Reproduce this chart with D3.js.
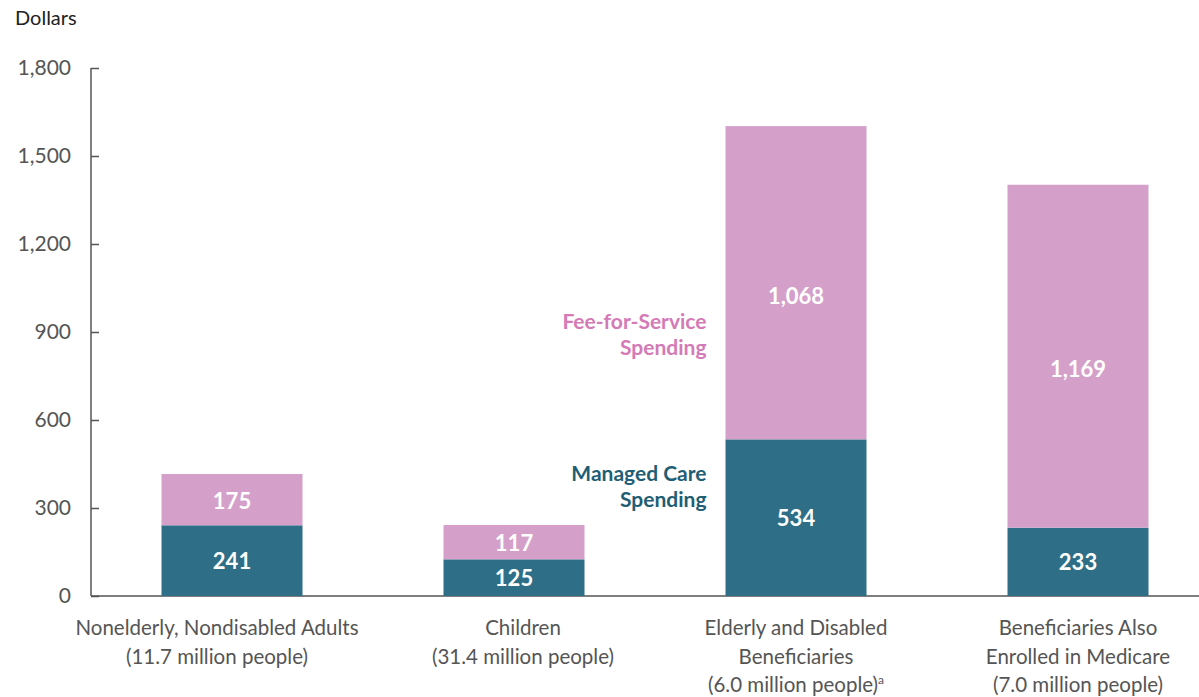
<!DOCTYPE html>
<html>
<head>
<meta charset="utf-8">
<script src="https://cdn.jsdelivr.net/npm/d3@7"></script>
<style>
  body { margin: 0; background: #fff; }
  text { font-family: Lato, "Open Sans", sans-serif; }
</style>
</head>
<body>
<script>
// categories, two lines (some three) each
var categories = ["adults", "children", "elderly", "dual"];
var categoryLines = [
  ["Nonelderly, Nondisabled Adults", "(11.7 million people)"],
  ["Children", "(31.4 million people)"],
  ["Elderly and Disabled", "Beneficiaries", "(6.0 million people)"],
  ["Beneficiaries Also", "Enrolled in Medicare", "(7.0 million people)"]
];
var managedCare = [241, 125, 534, 233];
var feeForService = [175, 117, 1068, 1169];
var yTicks = [0, 300, 600, 900, 1200, 1500, 1800];

var width = 1199, height = 697;
var teal = "#2e6e87", pink = "#d4a0ca";

var svg = d3.select("body").append("svg")
  .attr("width", width)
  .attr("height", height);

var x = d3.scaleBand()
  .domain(categories)
  .range([91, 1219])
  .paddingInner(0.5)
  .paddingOuter(0.25);

var y = d3.scaleLinear()
  .domain([0, 1800])
  .range([596, 68]);

// y axis
var yAxis = d3.axisLeft(y)
  .tickValues(yTicks)
  .tickSize(-8)
  .tickPadding(20)
  .tickFormat(d3.format(","));

var gy = svg.append("g")
  .attr("transform", "translate(91,0)")
  .call(yAxis);
gy.select(".domain").remove();
gy.selectAll("line").attr("stroke", "#555").attr("stroke-width", 1.5);
gy.selectAll("text")
  .attr("fill", "#555")
  .style("font-size", "21px")
  .style("font-family", "Lato, sans-serif");

// axis lines
svg.append("line")
  .attr("x1", 91).attr("x2", 91)
  .attr("y1", y(1800)).attr("y2", y(0))
  .attr("stroke", "#555").attr("stroke-width", 1.5);
svg.append("line")
  .attr("x1", 91).attr("x2", width)
  .attr("y1", y(0)).attr("y2", y(0))
  .attr("stroke", "#555").attr("stroke-width", 1.5);

svg.append("text")
  .attr("x", 15).attr("y", 25)
  .attr("fill", "#222")
  .style("font-size", "20px")
  .text("Dollars");

// bars
var bars = svg.selectAll("g.bar")
  .data(categories)
  .enter()
  .append("g")
  .attr("class", "bar");

bars.append("rect")
  .attr("x", function(d) { return x(d); })
  .attr("width", x.bandwidth())
  .attr("y", function(d, i) { return y(managedCare[i]); })
  .attr("height", function(d, i) { return y(0) - y(managedCare[i]); })
  .attr("fill", teal);

bars.append("rect")
  .attr("x", function(d) { return x(d); })
  .attr("width", x.bandwidth())
  .attr("y", function(d, i) { return y(managedCare[i] + feeForService[i]); })
  .attr("height", function(d, i) { return y(managedCare[i]) - y(managedCare[i] + feeForService[i]); })
  .attr("fill", pink);

// value labels
bars.append("text")
  .attr("x", function(d) { return x(d) + x.bandwidth() / 2; })
  .attr("y", function(d, i) { return (y(0) + y(managedCare[i])) / 2; })
  .attr("dy", ".36em")
  .attr("text-anchor", "middle")
  .attr("fill", "#fff")
  .style("font-size", "22px")
  .style("font-weight", "bold")
  .text(function(d, i) { return d3.format(",")(managedCare[i]); });

// the tall pink segments have their label sat a bit below the middle
bars.append("text")
  .attr("x", function(d) { return x(d) + x.bandwidth() / 2; })
  .attr("y", function(d, i) {
    var mid = (y(managedCare[i]) + y(managedCare[i] + feeForService[i])) / 2;
    var h = y(managedCare[i]) - y(managedCare[i] + feeForService[i]);
    return h > 100 ? mid + 13 : mid + 1;
  })
  .attr("dy", ".36em")
  .attr("text-anchor", "middle")
  .attr("fill", "#fff")
  .style("font-size", "22px")
  .style("font-weight", "bold")
  .text(function(d, i) { return d3.format(",")(feeForService[i]); });

// category labels (first two sit a little off the bar centre, as in the original)
var labelShift = [-15, 9, 0, 0];
bars.each(function(d, i) {
  var t = d3.select(this).append("text")
    .attr("text-anchor", "middle")
    .attr("fill", "#555")
    .style("font-size", "20.5px");
  categoryLines[i].forEach(function(line, j) {
    t.append("tspan")
      .attr("x", x(d) + x.bandwidth() / 2 + labelShift[i])
      .attr("y", 635 + j * 28.5)
      .text(line);
    if (i == 2 && j == 2) {
      t.append("tspan")
        .attr("dy", -8)
        .style("font-size", "12px")
        .text("a");
    }
  });
});

// series labels next to third bar
var lx = x("elderly") - 19;
var ffsLabel = svg.append("text")
  .attr("text-anchor", "end")
  .attr("fill", "#d47ab6")
  .style("font-size", "21px")
  .style("font-weight", "bold");
ffsLabel.append("tspan").attr("x", lx).attr("y", 329).text("Fee-for-Service");
ffsLabel.append("tspan").attr("x", lx).attr("y", 355).text("Spending");

var mcLabel = svg.append("text")
  .attr("text-anchor", "end")
  .attr("fill", "#1f5e74")
  .style("font-size", "21px")
  .style("font-weight", "bold");
mcLabel.append("tspan").attr("x", lx).attr("y", 481).text("Managed Care");
mcLabel.append("tspan").attr("x", lx).attr("y", 507).text("Spending");
</script>
</body>
</html>
